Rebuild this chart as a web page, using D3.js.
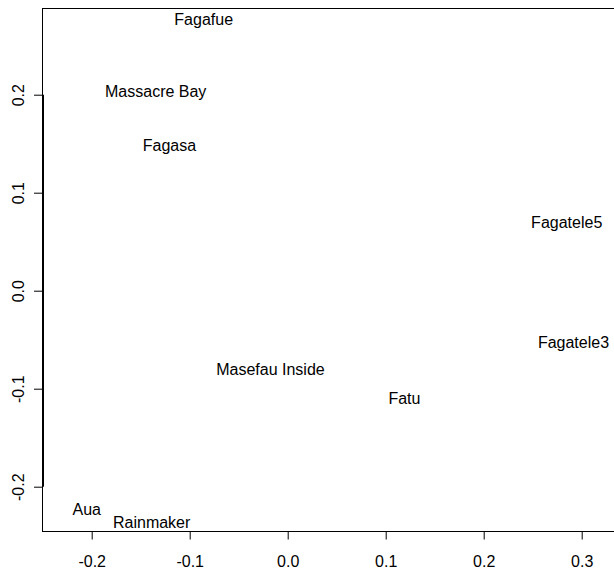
<!DOCTYPE html>
<html>
<head>
<meta charset="utf-8">
<script src="https://cdn.jsdelivr.net/npm/d3@7"></script>
<style>
  html, body { margin: 0; padding: 0; background: #fff; }
  svg { display: block; }
  text { font-family: "Liberation Sans", Arial, sans-serif; fill: #000; }
</style>
</head>
<body>
<svg id="chart" width="614" height="571"></svg>
<script>
// Site labels and their ordination scores
const sites = ["Fagafue", "Massacre Bay", "Fagasa", "Fagatele5", "Fagatele3",
               "Masefau Inside", "Fatu", "Aua", "Rainmaker"];
const axis1 = [-0.0857, -0.1347, -0.1207, 0.2847, 0.2916, -0.0176, 0.1191, -0.2051, -0.1388];
const axis2 = [0.2765, 0.2031, 0.1482, 0.0696, -0.0531, -0.0806, -0.1100, -0.2235, -0.2364];

const xTicks = [-0.2, -0.1, 0.0, 0.1, 0.2, 0.3];
const yTicks = [-0.2, -0.1, 0.0, 0.1, 0.2];

const xDomain = [-0.2, 0.3];
const yDomain = [-0.2, 0.2];

const svg = d3.select("#chart");
const fontSize = 16;

// scales: ticks
const x = d3.scaleLinear().domain(xDomain).range([91.7, 581.7]);
const y = d3.scaleLinear().domain(yDomain).range([486.7, 94.7]);

const plotLeft = 42.5, plotTop = 8.5, plotBottom = 531.5;

// plot box (right edge falls outside the window)
svg.append("rect")
  .attr("x", plotLeft).attr("y", plotTop)
  .attr("width", 700).attr("height", plotBottom - plotTop)
  .attr("fill", "none").attr("stroke", "#000").attr("stroke-width", 1);

const fmt = d => d.toFixed(1);

// bottom axis
const xAxis = d3.axisBottom(x).tickValues(xTicks).tickFormat(fmt)
  .tickSizeOuter(0).tickSize(8).tickPadding(16);
const gx = svg.append("g").attr("transform", `translate(0,${plotBottom})`).call(xAxis);
gx.select(".domain")
  .attr("d", `M${x(xTicks[0])},0H${x(xTicks[xTicks.length - 1])}`)
  .attr("stroke-width", 1);
gx.selectAll("text").attr("font-size", fontSize)
  .attr("font-family", "Liberation Sans, Arial, sans-serif").attr("fill", "#000");
gx.selectAll(".tick line").attr("stroke", "#000");

// left axis
const yAxis = d3.axisLeft(y).tickValues(yTicks).tickFormat(fmt)
  .tickSizeOuter(0).tickSize(9);
const gy = svg.append("g").attr("transform", `translate(${plotLeft + 0.5},0)`).call(yAxis);
gy.select(".domain")
  .attr("d", `M0,${y(yTicks[0])}V${y(yTicks[yTicks.length - 1])}`)
  .attr("stroke-width", 2);
gy.selectAll(".tick line").attr("stroke", "#000");
gy.selectAll(".tick text")
  .attr("x", null).attr("dy", null)
  .attr("transform", `translate(${18 - (plotLeft + 0.5)},0) rotate(-90)`)
  .attr("text-anchor", "middle")
  .attr("dy", "0.35em")
  .attr("font-size", fontSize)
  .attr("font-family", "Liberation Sans, Arial, sans-serif").attr("fill", "#000");

// site labels
svg.append("g").selectAll("text")
  .data(sites.map((s, i) => ({ name: s, a: axis1[i], b: axis2[i] })))
  .join("text")
  .attr("x", d => x(d.a))
  .attr("y", d => y(d.b))
  .attr("dy", "0.35em")
  .attr("text-anchor", "middle")
  .attr("font-size", fontSize)
  .text(d => d.name);
</script>
</body>
</html>
